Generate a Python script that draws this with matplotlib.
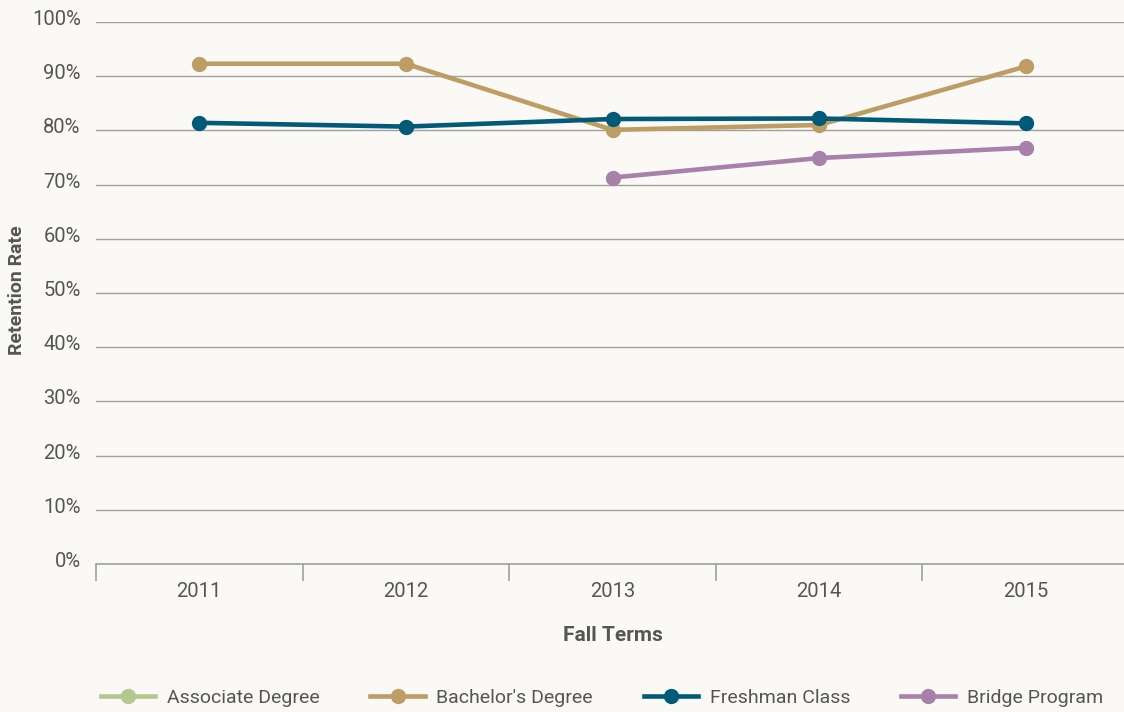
import numpy as np
import matplotlib.pyplot as plt
import matplotlib.transforms as mtransforms

# Retention data (fall terms)
terms = ['2011', '2012', '2013', '2014', '2015']
associate = [np.nan, np.nan, np.nan, np.nan, np.nan]
bachelor = [92.3, 92.3, 80.1, 81.0, 91.8]
freshman = [81.4, 80.7, 82.1, 82.2, 81.3]
bridge = [np.nan, np.nan, 71.3, 74.9, 76.8]

series_names = ['Associate Degree', "Bachelor's Degree", 'Freshman Class', 'Bridge Program']
series_colors = ['#B3C88F', '#BE9D64', '#005A78', '#A781AA']

bg = '#FAF9F5'
text_c = '#555555'
plt.rcParams['font.family'] = ['Roboto', 'DejaVu Sans']

fig = plt.figure(figsize=(11.24, 7.12), dpi=100, facecolor=bg)
ax = fig.add_axes([96/1124, 1 - 564/712, 1033/1124, (564 - 22)/712])
ax.set_facecolor(bg)

x = np.arange(len(terms))
for vals, name, c in zip([associate, bachelor, freshman, bridge], series_names, series_colors):
    ax.plot(x, vals, color=c, linewidth=3.3, marker='o', markersize=10, label=name, clip_on=False)

ax.set_xlim(-0.5, 4.5)
ax.set_ylim(0, 100)
ax.set_yticks(np.arange(0, 101, 10))
ax.set_yticklabels([f'{v}%' for v in range(0, 101, 10)])
ax.grid(axis='y', color='#A0A0A0', linewidth=1)
ax.set_axisbelow(True)

for s in ['top', 'right', 'left']:
    ax.spines[s].set_visible(False)
ax.spines['bottom'].set_color('#A0A0A0')
ax.spines['bottom'].set_linewidth(1.2)

ax.set_xticks(x)
ax.set_xticklabels(terms)
ax.set_xticks(np.arange(-0.5, 5, 1), minor=True)
ax.tick_params(axis='x', which='major', length=0, pad=13, labelsize=14.5, labelcolor=text_c)
ax.tick_params(axis='x', which='minor', length=12, width=1.2, color='#A0A0A0', direction='out')
ax.tick_params(axis='y', length=0, pad=11, labelsize=14.5, labelcolor=text_c)
shift = mtransforms.ScaledTranslation(0, -3/100, fig.dpi_scale_trans)
for lbl in ax.get_yticklabels():
    lbl.set_verticalalignment('baseline')
    lbl.set_transform(lbl.get_transform() + shift)

ax.set_xlabel('Fall Terms', fontsize=15, fontweight='bold', color=text_c, labelpad=18)
fig.text(17/1124, 1 - 290/712, 'Retention Rate', rotation=90, fontsize=14, fontweight='bold',
         color=text_c, ha='center', va='center')

fig.legend(loc='center', bbox_to_anchor=(602/1124, 1 - 698/712), ncol=4, frameon=False,
           fontsize=14, labelcolor=text_c, handlelength=2.8, handletextpad=0.6,
           columnspacing=2.6)

plt.savefig('out.png', dpi=100, facecolor=bg)
